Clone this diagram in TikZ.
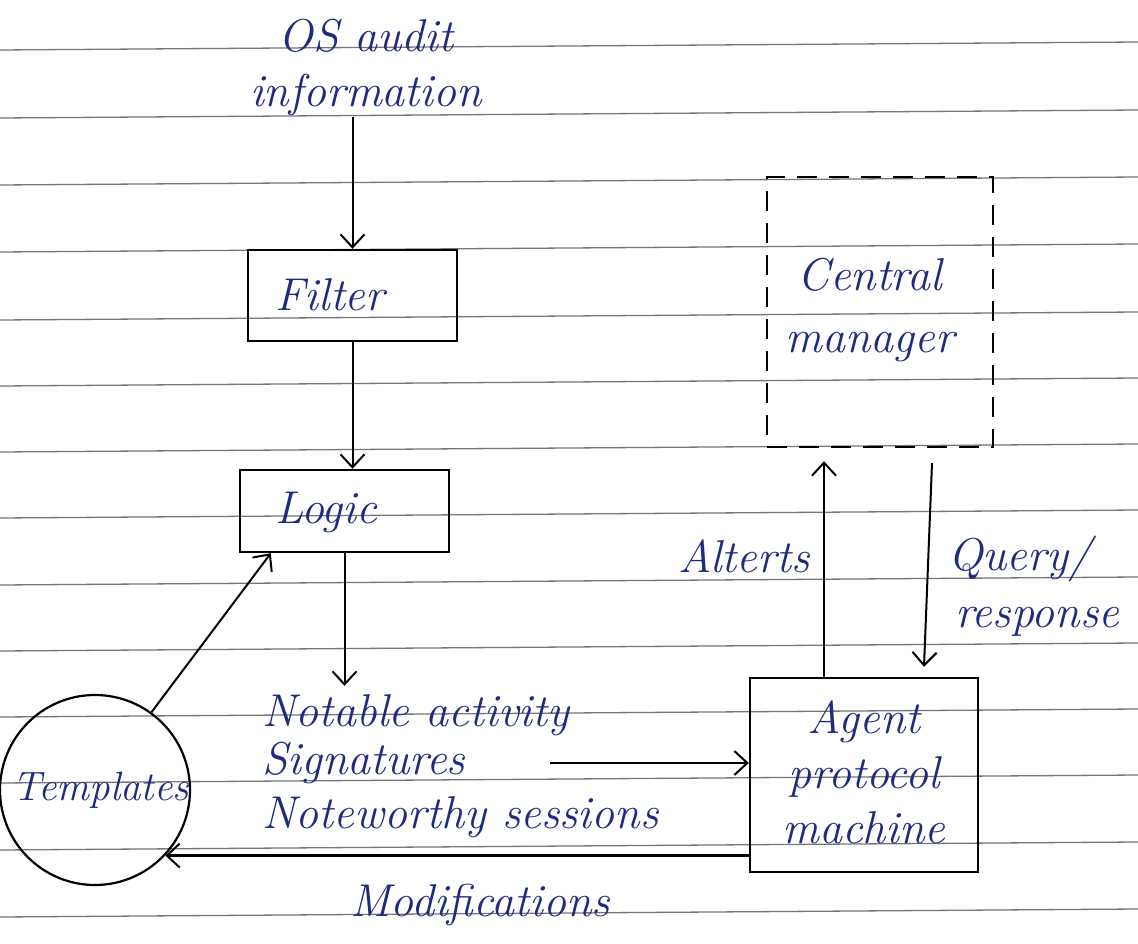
\documentclass[tikz,border=0pt]{standalone}
\usetikzlibrary{arrows.meta}
\definecolor{ink}{HTML}{1E2B7E}
\definecolor{ruling}{HTML}{777777}
\begin{document}
\begin{tikzpicture}[x=1pt,y=-1pt,
  hand/.style={text=ink,font=\fontsize{46}{55}\selectfont\itshape,inner sep=0pt,align=center},
  box/.style={draw=black,line width=2.4pt,inner sep=0pt},
  flow/.style={draw=black,line width=2pt,
    -{Straight Barb[length=13pt,width=24pt,line width=2pt]}},
]
\useasboundingbox (0,0) rectangle (1138,944);
\fill[white] (0,0) rectangle (1138,944);

% ruled notebook lines
\foreach \y in {50,118,185,252,320,386,452,518,585,651,717,783,850,917}
  \draw[ruling,line width=1.3pt] (0,\y) -- (1138,\y-8);

% boxes and the data store
\node[box,minimum width=209pt,minimum height=91pt] (filter) at (352.5,295.5) {};
\node[hand] at (330,295) {Filter};
\node[box,minimum width=209pt,minimum height=82pt] (logic) at (344.5,511) {};
\node[hand] at (326,512) {Logic};
\node[box,minimum width=228pt,minimum height=194pt] (agent) at (864,775) {};
\node[hand] at (864,772) {Agent\\protocol\\machine};
\node[box,dash pattern=on 20pt off 12pt,minimum width=226pt,minimum height=270pt] (cm) at (880,312) {};
\node[hand,font=\fontsize{46}{62}\selectfont\itshape] at (870,310) {Central\\manager};
\node[draw=black,line width=2.2pt,circle,minimum size=190pt,inner sep=0pt] (templates) at (95,790) {};
\node[hand,font=\fontsize{41}{50}\selectfont\itshape] at (101,790) {Templates};

% free labels
\node[hand] (audit) at (366,68) {OS audit\\information};
\node[hand,anchor=base west] (notable) at (262,726) {Notable activity};
\node[hand,anchor=base west] (sigs) at (262,774) {Signatures};
\node[hand,anchor=base west] (notew) at (262,828) {Noteworthy sessions};
\node[hand] (mods) at (480,905) {Modifications};
\node[hand,anchor=base east] (alerts) at (810,572) {Alterts};
\node[hand,anchor=base west] (query) at (948,570) {Query/};
\node[hand,anchor=base west] (resp) at (955,627) {response};

% connectors
\coordinate (sigtail) at (550,763);
\coordinate (modhead) at (templates.-43);
\draw[flow] (audit.south -| filter.north) -- (filter.north);
\draw[flow] (filter.south) -- (filter.south |- logic.north);
\draw[flow] (logic.south) -- ([yshift=8pt]logic.south |- notable.north);
\draw[flow] (templates.54) -- ([xshift=32pt]logic.south west);
\draw[flow] (sigtail) -- (sigtail -| agent.west);
\draw[flow,line width=3.4pt] (agent.west |- modhead) -- (modhead);
\draw[flow] ([xshift=-40pt]agent.north) -- ([xshift=-40pt,yshift=-13pt]agent.north |- cm.south);
\draw[flow] ([xshift=52pt,yshift=-15pt]cm.south) -- ([xshift=44pt,yshift=10pt]cm.south |- agent.north);
\end{tikzpicture}
\end{document}
